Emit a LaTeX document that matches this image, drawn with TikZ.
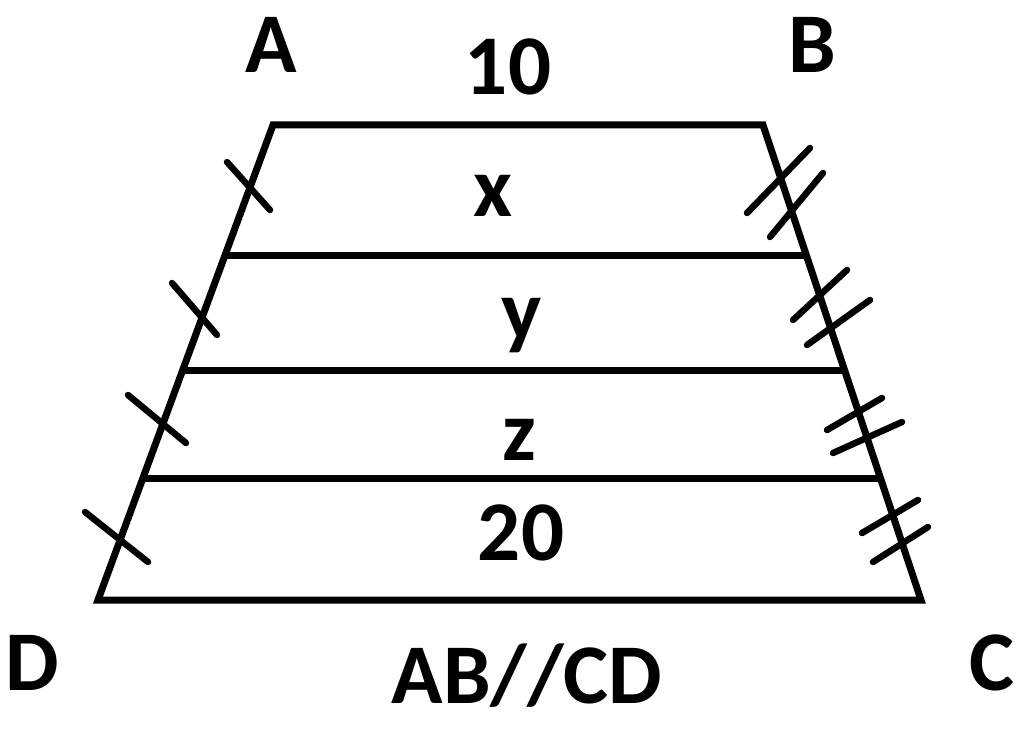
\documentclass[tikz,border=0pt]{standalone}
\usepackage{fontspec}
\setmainfont{Carlito}
\usetikzlibrary{calc}
\tikzset{
  edge/.style={line width=7pt, line join=miter},
  tick/.style={line width=6.5pt, line cap=round},
  lbl/.style={anchor=base, inner sep=0pt, font=\fontsize{85}{100}\selectfont\bfseries}
}
\begin{document}
\begin{tikzpicture}[x=1pt,y=-1pt]
\useasboundingbox (0,0) rectangle (1024,751);
\coordinate (A) at (273,125);
\coordinate (B) at (763,125);
\coordinate (C) at (921,600);
\coordinate (D) at (98,600);
\draw[edge] (A) -- (B) -- (C) -- (D) -- cycle;
% horizontal segments
\coordinate (L1) at ($(A)!0.2737!(D)$); \coordinate (R1) at ($(B)!0.2737!(C)$);
\coordinate (L2) at ($(A)!0.5158!(D)$); \coordinate (R2) at ($(B)!0.5158!(C)$);
\coordinate (L3) at ($(A)!0.7432!(D)$); \coordinate (R3) at ($(B)!0.7432!(C)$);
\draw[edge] (L1) -- (R1);
\draw[edge] (L2) -- (R2);
\draw[edge] (L3) -- (R3);
% single ticks on AD
\draw[tick] (227,162) -- (270,210);
\draw[tick] (172,283) -- (217,335);
\draw[tick] (128,395) -- (186,443);
\draw[tick] (85,512) -- (148,562);
% double ticks on BC
\draw[tick] (747,213) -- (810,148);
\draw[tick] (770,237) -- (823,173);
\draw[tick] (793,320) -- (847,270);
\draw[tick] (807,345) -- (870,300);
\draw[tick] (827,430) -- (882,398);
\draw[tick] (833,453) -- (902,422);
\draw[tick] (862,533) -- (918,500);
\draw[tick] (873,562) -- (928,527);
% labels
\node[lbl] (tA) at (271,73) {A};
\node[lbl] (tB) at (812,73) {B};
\node[lbl] (tC) at (992,690) {C};
\node[lbl] (tD) at (32,690) {D};
\node[lbl] (t10) at (508,95) {10};
\node[lbl] (tx) at (493,217) {x};
\node[lbl] (ty) at (522,339) {y};
\node[lbl] (tz) at (519,460) {z};
\node[lbl] (t20) at (521,560) {20};
\node[lbl] (tpar) at (527,703) {AB//CD};
\end{tikzpicture}
\end{document}
